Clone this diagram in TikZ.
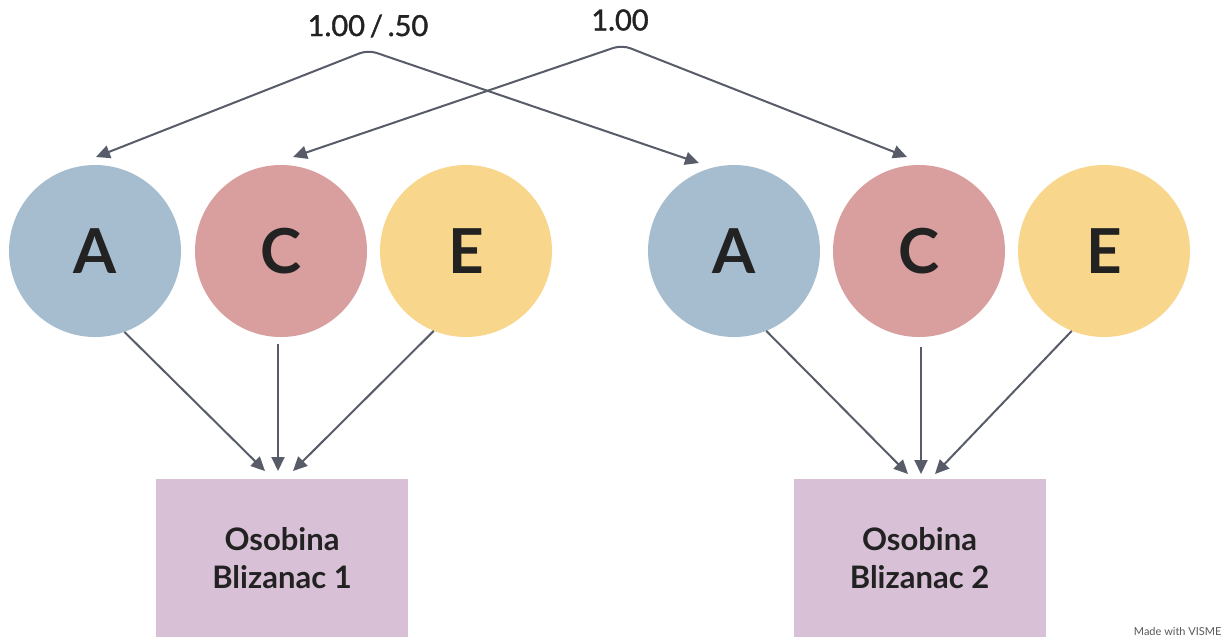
\documentclass[tikz,border=0pt]{standalone}
\usepackage{fontspec}
\setmainfont{Lato}
\newfontfamily\lblfont{Lato}[FakeBold=1.2]
\usetikzlibrary{arrows.meta,calc}
\definecolor{cA}{HTML}{A6BDD0}
\definecolor{cC}{HTML}{D99E9E}
\definecolor{cE}{HTML}{F8D68B}
\definecolor{cBox}{HTML}{D8C1D6}
\definecolor{cLine}{HTML}{575C68}
\definecolor{cText}{HTML}{222222}
\tikzset{
  ball/.style={circle, minimum size=172pt, inner sep=0pt, text=cText,
    font=\fontsize{62}{66}\selectfont\bfseries},
  trait/.style={rectangle, minimum width=252pt, minimum height=158pt, inner sep=0pt,
    fill=cBox, text=cText, align=center, font=\fontsize{31}{38}\selectfont\bfseries},
  conn/.style={draw=cLine, line width=2pt, -{Triangle[length=14pt,width=13pt]}},
  both/.style={draw=cLine, line width=2pt, rounded corners=9pt,
    {Triangle[length=14pt,width=13pt]}-{Triangle[length=14pt,width=13pt]}},
  lbl/.style={text=cText, font=\fontsize{29}{32}\lblfont}
}
\begin{document}
\begin{tikzpicture}[x=1pt,y=-1pt]
\useasboundingbox[fill=white] (0,0) rectangle (1228,637);
% circles
\node[ball, fill=cA] (A1) at (95,251) {A};
\node[ball, fill=cC] (C1) at (281,251) {C};
\node[ball, fill=cE] (E1) at (466,251) {E};
\node[ball, fill=cA] (A2) at (734,251) {A};
\node[ball, fill=cC] (C2) at (919,251) {C};
\node[ball, fill=cE] (E2) at (1104,251) {E};
% boxes
\node[trait] (B1) at (282,558) {Osobina\\Blizanac 1};
\node[trait] (B2) at (919.5,558) {Osobina\\Blizanac 2};
% labels
\node[lbl] (L1) at (368,26) {1.00\,/\,.50};
\node[lbl] (L2) at (620,20) {1.00};
% top connector points
\coordinate (P1) at (368,50);
\coordinate (P2) at (622,45);
\coordinate (tA1) at (96,157);
\coordinate (tC1) at (293,157);
\coordinate (tA2) at (699,163);
\coordinate (tC2) at (907,157);
\draw[both] (tA1) -- (P1) -- (tA2);
\draw[both] (tC1) -- (P2) -- (tC2);
% bottom connector ends
\coordinate (e1a) at (265,471);
\coordinate (e1c) at (278,471);
\coordinate (e1e) at (293,471);
\coordinate (e2a) at (908,474);
\coordinate (e2c) at (921,474);
\coordinate (e2e) at (935,474);
\draw[conn] (A1.-70) -- (e1a);
\draw[conn] ($(C1.south)+(-3,7)$) -- (e1c);
\draw[conn] (E1.-112) -- (e1e);
\draw[conn] (A2.-68) -- (e2a);
\draw[conn] ($(C2.south)+(2,10)$) -- (e2c);
\draw[conn] (E2.-112) -- (e2e);
% watermark
\node[text=black!65, font=\fontsize{11}{12}\selectfont, anchor=east] (W) at (1225,631) {Made with VISME};
\end{tikzpicture}
\end{document}
